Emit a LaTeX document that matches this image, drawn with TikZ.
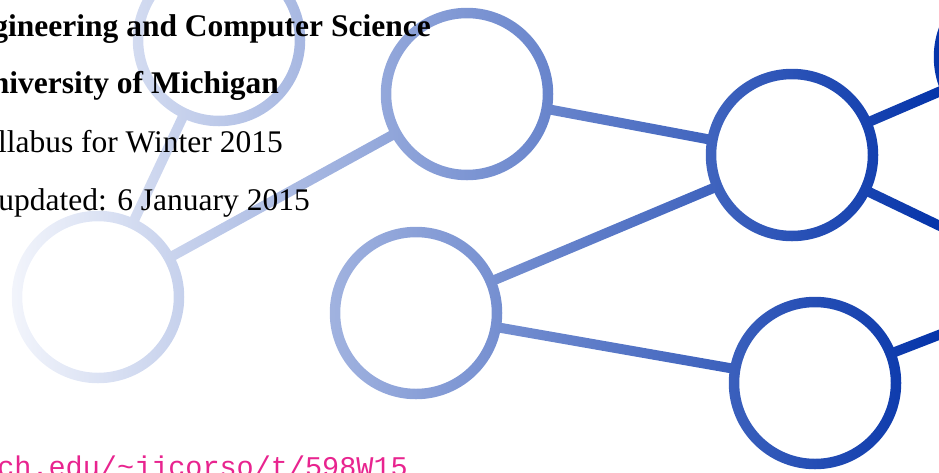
\documentclass[tikz,border=0pt]{standalone}
\usepackage{fontspec}
\setmainfont{Liberation Serif}
\setmonofont{Liberation Mono}
\definecolor{netblue}{RGB}{0,48,168}
\definecolor{netlight}{RGB}{250,251,254}
\definecolor{urlpink}{RGB}{232,36,143}
\tikzset{
  ring/.style={circle, draw=black, line width=10.5pt, minimum size=162pt, inner sep=0pt, outer sep=0pt},
  link/.style={draw=black, line width=10pt},
  headbold/.style={anchor=base east, inner sep=0pt, font=\fontsize{31.5}{31.5}\selectfont\bfseries},
  headreg/.style={anchor=base east, inner sep=0pt, font=\fontsize{31.5}{31.5}\selectfont},
  urltext/.style={anchor=base east, inner sep=0pt, text=urlpink, font=\fontsize{28.5}{28.5}\selectfont\ttfamily},
}
\begin{document}
\begin{tikzpicture}[x=1pt, y=-1pt]
  \useasboundingbox (0,0) rectangle (939,472);
  \fill[white] (-20,-20) rectangle (959,492);
  % circles
  \node[ring] (c1) at (219,40) {};
  \node[ring] (c2) at (467,94) {};
  \node[ring] (c3) at (792,155) {};
  \node[ring] (c4) at (815,383) {};
  \node[ring] (c5) at (416,313) {};
  \node[ring] (c6) at (98,297) {};
  \node[ring] (c7) at (1020,57) {};
  \node[ring] (c8) at (1065,286) {};
  % connectors
  \draw[link] (c1) -- (c6);
  \draw[link] (c6) -- (c2);
  \draw[link] (c2) -- (c3);
  \draw[link] (c5) -- (c3);
  \draw[link] (c5) -- (c4);
  \draw[link] (c3) -- (c7);
  \draw[link] (c3) -- (c8);
  \draw[link] (c4) -- (c8);
  % colour gradient over the network
  \shade[blend mode=screen, left color=netlight, right color=netblue] (-20,-20) rectangle (959,492);
  % texts
  \node[headbold] (t1) at (431,36) {gineering and Computer Science};
  \node[headbold] (t2) at (279,93) {niversity of Michigan};
  \node[headreg] (t3) at (283,152) {llabus for Winter 2015};
  \node[headreg] (t4) at (310,210) {updated: 6 January 2015};
  \node[urltext] (t5) at (408,476) {ch.edu/\textasciitilde jjcorso/t/598W15};
\end{tikzpicture}
\end{document}
